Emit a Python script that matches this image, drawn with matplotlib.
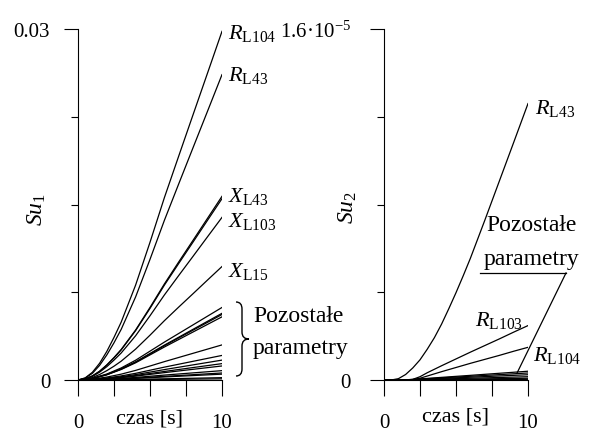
import matplotlib
matplotlib.use("Agg")
import matplotlib.pyplot as plt
from matplotlib.path import Path
from matplotlib.patches import PathPatch

plt.rcParams['font.family'] = ['Liberation Serif', 'DejaVu Serif']
plt.rcParams['mathtext.fontset'] = 'custom'
plt.rcParams['mathtext.rm'] = 'Liberation Serif'
plt.rcParams['mathtext.it'] = 'Liberation Serif:italic'

# time grids [s]
t = [0, 0.5, 1, 1.5, 2, 2.5, 3, 4, 5, 6, 7, 8, 9, 10]
t2 = [0, 1, 2, 3, 4, 6, 10]
t3 = [0, 0.5, 1, 1.5, 2, 2.5, 3, 3.5, 4, 4.5, 5, 5.5, 6, 7, 8, 9, 10]

# Su1 - labelled sensitivities (on t)
su1_RL104 = [0, 0.00018, 0.00066, 0.00143, 0.00244, 0.00364, 0.00495, 0.00811, 0.01177, 0.01559, 0.01916, 0.02271, 0.02625, 0.0298]
su1_RL43 = [0, 0.00016, 0.00057, 0.00125, 0.00214, 0.00318, 0.00433, 0.00710, 0.01031, 0.01365, 0.01678, 0.01989, 0.02299, 0.0261]
su1_XL43 = [0, 0.00009, 0.00035, 0.00075, 0.00129, 0.00192, 0.00261, 0.00427, 0.00620, 0.00821, 0.01010, 0.01196, 0.01383, 0.0157]
su1_XL43b = [0, 0.00009, 0.00034, 0.00074, 0.00127, 0.00189, 0.00257, 0.00422, 0.00612, 0.00811, 0.00997, 0.01181, 0.01366, 0.0155]
su1_XL103 = [0, 0.00008, 0.00031, 0.00067, 0.00114, 0.00170, 0.00231, 0.00378, 0.00549, 0.00727, 0.00894, 0.01059, 0.01225, 0.0139]
su1_XL15 = [0, 0.00006, 0.00021, 0.00047, 0.00080, 0.00118, 0.00161, 0.00264, 0.00383, 0.00507, 0.00624, 0.00739, 0.00855, 0.0097]

# Su1 - remaining parameters (on t2)
su1_rest = [
    [0, 0.00014, 0.00051, 0.00103, 0.00169, 0.00324, 0.0062],
    [0, 0.00013, 0.00047, 0.00095, 0.00155, 0.00298, 0.0057],
    [0, 0.00012, 0.00046, 0.00093, 0.00152, 0.00293, 0.0056],
    [0, 0.00012, 0.00044, 0.00090, 0.00147, 0.00282, 0.0054],
    [0, 0.00007, 0.00025, 0.00050, 0.00082, 0.00157, 0.0030],
    [0, 0.00005, 0.00017, 0.00035, 0.00057, 0.00110, 0.0021],
    [0, 0.00004, 0.00014, 0.00028, 0.00046, 0.00089, 0.0017],
    [0, 0.00003, 0.00011, 0.00023, 0.00038, 0.00073, 0.0014],
    [0, 0.00003, 0.00010, 0.00020, 0.00033, 0.00063, 0.0012],
    [0, 0.00002, 0.00007, 0.00013, 0.00022, 0.00042, 0.0008],
    [0, 0.00001, 0.00005, 0.00010, 0.00016, 0.00031, 0.0006],
    [0, 0.00001, 0.00004, 0.00008, 0.00014, 0.00026, 0.0005],
    [0, 0.0, 0.00002, 0.00003, 0.00005, 0.00010, 0.0002],
    [0, 0.0, 0.00001, 0.00002, 0.00003, 0.00005, 0.0001],
]

# Su2 - labelled sensitivities
su2_RL43 = [0, 0, 0.06e-6, 0.25e-6, 0.55e-6, 0.92e-6, 1.4e-6, 1.93e-6, 2.55e-6, 3.25e-6, 3.98e-6,
            4.75e-6, 5.55e-6, 7.28e-6, 9.05e-6, 10.82e-6, 12.6e-6]  # on t3
su2_RL103 = [0, 0, 0, 0.005e-6, 0.03e-6, 0.15e-6, 0.33e-6, 0.65e-6, 0.96e-6, 1.27e-6, 1.57e-6, 1.87e-6, 2.18e-6, 2.48e-6]
su2_RL104 = [0, 0, 0, 0.003e-6, 0.02e-6, 0.08e-6, 0.18e-6, 0.38e-6, 0.57e-6, 0.76e-6, 0.94e-6, 1.12e-6, 1.31e-6, 1.49e-6]

# Su2 - remaining parameters (on t2)
su2_rest = [
    [0, 0, 0.024e-6, 0.072e-6, 0.12e-6, 0.212e-6, 0.40e-6],
    [0, 0, 0.019e-6, 0.058e-6, 0.096e-6, 0.17e-6, 0.32e-6],
    [0, 0, 0.014e-6, 0.043e-6, 0.072e-6, 0.127e-6, 0.24e-6],
    [0, 0, 0.009e-6, 0.027e-6, 0.045e-6, 0.08e-6, 0.15e-6],
    [0, 0, 0.005e-6, 0.014e-6, 0.024e-6, 0.042e-6, 0.08e-6],
    [0, 0, 0.002e-6, 0.005e-6, 0.009e-6, 0.016e-6, 0.03e-6],
]

W, H = 591, 435


def fx(x):
    return x / W


def fy(y):
    return 1 - y / H


fig = plt.figure(figsize=(W / 100, H / 100), dpi=100)
ax1 = fig.add_axes([fx(78), fy(381), 144 / W, 351 / H])
ax2 = fig.add_axes([fx(384), fy(381), 144 / W, 351 / H])

lw = 0.9
for s in [su1_RL104, su1_RL43, su1_XL43, su1_XL43b, su1_XL103, su1_XL15]:
    ax1.plot(t, s, color='black', lw=lw)
for s in su1_rest:
    ax1.plot(t2, s, color='black', lw=lw)

ax2.plot(t3, su2_RL43, color='black', lw=lw)
for s in [su2_RL103, su2_RL104]:
    ax2.plot(t, s, color='black', lw=lw)
for s in su2_rest:
    ax2.plot(t2, s, color='black', lw=lw)

# axes styling
for ax, ymax, ylabels, ypad in [(ax1, 0.03, ['0', '0.03'], 10),
                                (ax2, 1.6e-5, ['0', '1.6·10$^{-5}$'], 14)]:
    ax.set_xlim(0, 10)
    ax.set_ylim(0, ymax)
    ax.spines['top'].set_visible(False)
    ax.spines['right'].set_visible(False)
    ax.spines['left'].set_linewidth(0.8)
    ax.spines['bottom'].set_linewidth(0.8)
    ax.set_yticks([0, ymax])
    ax.set_yticklabels(ylabels)
    ax.set_yticks([ymax / 4, ymax / 2, 3 * ymax / 4], minor=True)
    ax.set_xticks([0, 10])
    ax.set_xticklabels(['0', '10'])
    ax.set_xticks([2.5, 5, 7.5], minor=True)
    ax.tick_params(axis='y', which='major', length=10, width=0.8, labelsize=15, pad=ypad)
    ax.tick_params(axis='y', which='minor', length=5, width=0.8)
    ax.tick_params(axis='x', which='both', length=11.5, width=0.8, labelsize=15, pad=12)
    ax.patch.set_visible(False)

fig.text(fx(150), fy(419), 'czas [s]', fontsize=16, ha='center', va='center')
fig.text(fx(456), fy(417), 'czas [s]', fontsize=16, ha='center', va='center')
fig.text(fx(37), fy(210), r'$Su_1$', fontsize=17, rotation=90, ha='center', va='center')
fig.text(fx(348), fy(208), r'$Su_2$', fontsize=17, rotation=90, ha='center', va='center')

# curve labels
fs = 16
lab = dict(fontsize=fs, ha='left', va='center', clip_on=False)
ax1.text(10.42, 0.02966, r'$R_{\rm L104}$', **lab)
ax1.text(10.42, 0.02607, r'$R_{\rm L43}$', **lab)
ax1.text(10.42, 0.01573, r'$X_{\rm L43}$', **lab)
ax1.text(10.42, 0.01359, r'$X_{\rm L103}$', **lab)
ax1.text(10.42, 0.0094, r'$X_{\rm L15}$', **lab)
fig.text(fx(253), fy(317), 'Pozostałe', fontsize=17, ha='left', va='center')
fig.text(fx(253), fy(349), 'parametry', fontsize=17, ha='left', va='center')

ax2.text(10.49, 1.244e-5, r'$R_{\rm L43}$', **lab)
ax2.text(6.32, 2.78e-6, r'$R_{\rm L103}$', **lab)
ax2.text(10.33, 1.185e-6, r'$R_{\rm L104}$', **lab)
fig.text(fx(532), fy(226), 'Pozostałe', fontsize=17, ha='center', va='center')
fig.text(fx(532), fy(259), 'parametry', fontsize=17, ha='center', va='center')
ax2.plot([6.67, 12.64], [4.88e-6, 4.88e-6], color='black', lw=lw, clip_on=False)
ax2.plot([12.64, 9.24], [4.88e-6, 3.2e-7], color='black', lw=lw, clip_on=False)

# curly brace
pts = [(236, 303), (242, 303), (242, 310), (242, 333), (242, 340), (249, 340),
       (242, 340), (242, 347), (242, 370), (242, 377), (236, 377)]
codes = [Path.MOVETO, Path.CURVE3, Path.CURVE3, Path.LINETO, Path.CURVE3, Path.CURVE3,
         Path.CURVE3, Path.CURVE3, Path.LINETO, Path.CURVE3, Path.CURVE3]
brace = Path([(fx(x), fy(y)) for x, y in pts], codes)
fig.add_artist(PathPatch(brace, fill=False, lw=1.0, edgecolor='black', transform=fig.transFigure))

fig.savefig('out.png', dpi=100)
